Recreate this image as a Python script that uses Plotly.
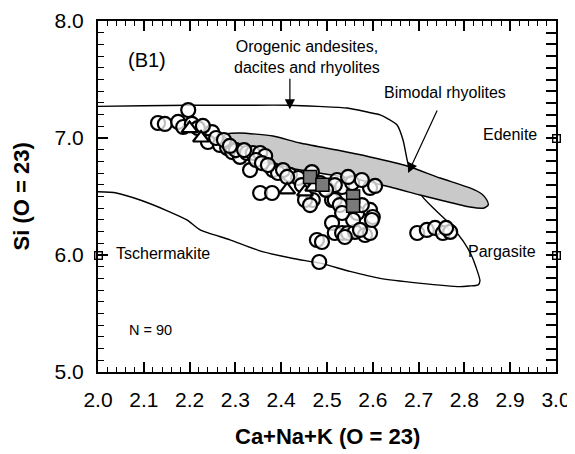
import plotly.graph_objects as go

# ---- data ----
circle_x = [2.131, 2.146, 2.197, 2.175, 2.186, 2.205, 2.249, 2.240, 2.266, 2.282,
            2.293, 2.310, 2.301, 2.325, 2.338, 2.354, 2.365, 2.332, 2.382, 2.393,
            2.419, 2.467, 2.485, 2.511, 2.522, 2.533, 2.469, 2.452, 2.463, 2.354,
            2.380, 2.517, 2.555, 2.594, 2.517, 2.566, 2.594, 2.600, 2.511, 2.478,
            2.489, 2.483, 2.517, 2.533, 2.546, 2.561, 2.583, 2.594, 2.557, 2.598,
            2.697, 2.718, 2.736, 2.753, 2.769, 2.760, 2.572, 2.539, 2.218, 2.229,
            2.258, 2.275, 2.288, 2.319, 2.345, 2.358, 2.371, 2.404, 2.437, 2.445,
            2.498, 2.546, 2.576, 2.605, 2.528, 2.576, 2.533, 2.413]
circle_y = [7.128, 7.120, 7.239, 7.137, 7.094, 7.120, 7.051, 6.966, 6.940, 6.915,
            6.880, 6.838, 6.897, 6.872, 6.872, 6.872, 6.846, 6.726, 6.726, 6.701,
            6.684, 6.709, 6.615, 6.470, 6.641, 6.581, 6.470, 6.470, 6.427, 6.530,
            6.530, 6.598, 6.615, 6.573, 6.470, 6.359, 6.385, 6.325, 6.274, 6.128,
            6.111, 5.940, 6.188, 6.188, 6.188, 6.197, 6.171, 6.188, 6.299, 6.299,
            6.188, 6.214, 6.231, 6.188, 6.197, 6.231, 6.214, 6.154, 7.085, 7.103,
            7.000, 6.983, 6.932, 6.897, 6.812, 6.786, 6.769, 6.726, 6.658, 6.598,
            6.556, 6.667, 6.641, 6.590, 6.427, 6.427, 6.359, 6.667]

tri_x = [2.200, 2.225, 2.413, 2.452, 2.470]
tri_y = [7.080, 7.000, 6.556, 6.540, 6.580]

sq_x = [2.463, 2.490, 2.557, 2.557]
sq_y = [6.667, 6.600, 6.500, 6.420]

orogenic_x = [2.0, 2.1, 2.2, 2.3, 2.42, 2.48, 2.544, 2.59, 2.616, 2.635, 2.653, 2.666,
              2.675, 2.682, 2.695, 2.71, 2.735, 2.762, 2.797, 2.815, 2.825, 2.834,
              2.83, 2.81, 2.79, 2.70, 2.616, 2.55, 2.485, 2.426, 2.35, 2.288, 2.223,
              2.194, 2.15, 2.092, 2.04, 2.0]
orogenic_y = [7.27, 7.275, 7.28, 7.28, 7.28, 7.27, 7.256, 7.22, 7.197, 7.16, 7.111, 6.983,
              6.812, 6.70, 6.58, 6.49, 6.39, 6.29, 6.12, 6.0, 5.90, 5.78,
              5.745, 5.735, 5.73, 5.76, 5.80, 5.86, 5.93, 5.97, 6.04, 6.13, 6.214,
              6.30, 6.38, 6.47, 6.53, 6.54]

bimodal_x = [2.275, 2.282, 2.310, 2.382, 2.441, 2.522, 2.594, 2.675, 2.747, 2.812,
             2.838, 2.849, 2.852, 2.843, 2.812, 2.747, 2.703, 2.638, 2.550, 2.419,
             2.354, 2.310, 2.284, 2.275]
bimodal_y = [7.017, 7.034, 7.043, 7.017, 6.957, 6.897, 6.838, 6.761, 6.658, 6.573,
             6.521, 6.470, 6.427, 6.402, 6.410, 6.470, 6.513, 6.581, 6.658, 6.744,
             6.829, 6.923, 6.983, 7.017]

end_names = ["Edenite", "Pargasite", "Tschermakite"]
end_x = [3.0, 3.0, 2.0]
end_y = [7.0, 6.0, 6.0]

x_ticks = [2.0, 2.1, 2.2, 2.3, 2.4, 2.5, 2.6, 2.7, 2.8, 2.9, 3.0]
x_tick_labels = ["2.0", "2.1", "2.2", "2.3", "2.4", "2.5", "2.6", "2.7", "2.8", "2.9", "3.0"]
y_ticks = [5.0, 6.0, 7.0, 8.0]
y_tick_labels = ["5.0", "6.0", "7.0", "8.0"]

FONT = "Liberation Sans, Arial, sans-serif"


def tf(size, bold=False):
    return dict(family=FONT, size=size, color="black")


fig = go.Figure()

fig.add_trace(go.Scatter(x=orogenic_x, y=orogenic_y, mode="lines",
                         line=dict(color="black", width=1.4, shape="spline", smoothing=0.6),
                         hoverinfo="skip"))

fig.add_trace(go.Scatter(x=bimodal_x, y=bimodal_y, mode="lines", fill="toself",
                         fillcolor="#c9c9c9",
                         line=dict(color="black", width=1.4, shape="spline", smoothing=0.6),
                         hoverinfo="skip"))

fig.add_trace(go.Scatter(x=circle_x, y=circle_y, mode="markers",
                         marker=dict(symbol="circle", size=14, color="rgba(255,255,255,0.75)",
                                     line=dict(color="black", width=2.2))))

fig.add_trace(go.Scatter(x=tri_x, y=tri_y, mode="markers",
                         marker=dict(symbol="triangle-up", size=14, color="white",
                                     line=dict(color="black", width=2.2))))

fig.add_trace(go.Scatter(x=sq_x, y=sq_y, mode="markers",
                         marker=dict(symbol="square", size=13, color="#7a7a7a",
                                     line=dict(color="black", width=1.5))))

# invisible trace to activate the mirrored top/right axes
fig.add_trace(go.Scatter(x=[2.0], y=[5.0], xaxis="x2", yaxis="y2", mode="markers",
                         marker=dict(opacity=0), hoverinfo="skip"))

annotations = [
    dict(x=2.107, y=7.667, text="(B1)", showarrow=False, font=tf(20)),
    dict(x=2.456, y=7.69, text="Orogenic andesites,<br>dacites and rhyolites",
         showarrow=False, font=tf(16)),
    dict(x=2.758, y=7.385, text="Bimodal rhyolites", showarrow=False, font=tf(16)),
    dict(x=2.962, y=7.034, text="Edenite", showarrow=False, xanchor="right", font=tf(16)),
    dict(x=2.960, y=6.03, text="Pargasite", showarrow=False, xanchor="right", font=tf(16)),
    dict(x=2.035, y=6.017, text="Tschermakite", showarrow=False, xanchor="left", font=tf(16)),
    dict(x=2.063, y=5.36, text="N = 90", showarrow=False, xanchor="left", font=tf(14.5)),
    dict(x=2.419, y=7.245, ax=2.419, ay=7.52, xref="x", yref="y", axref="x", ayref="y",
         text="", showarrow=True, arrowhead=2, arrowsize=1.7, arrowwidth=1.2, arrowcolor="black"),
    dict(x=2.677, y=6.70, ax=2.742, ay=7.248, xref="x", yref="y", axref="x", ayref="y",
         text="", showarrow=True, arrowhead=2, arrowsize=1.7, arrowwidth=1.2, arrowcolor="black"),
    dict(x=0.5, y=-0.185, xref="paper", yref="paper", text="<b>Ca+Na+K (O = 23)</b>",
         showarrow=False, font=tf(22), yanchor="middle"),
    dict(x=-0.166, y=0.5, xref="paper", yref="paper", text="<b>Si (O = 23)</b>",
         showarrow=False, font=tf(22), textangle=-90, xanchor="center", yanchor="middle"),
]

# end-member open squares, placed through the axes and not clipped at the frame
for ex, ey in zip(end_x, end_y):
    annotations.append(dict(x=ex, y=ey, xref="x", yref="y", text="&nbsp;", showarrow=False,
                            font=dict(size=4), width=6, height=6, borderpad=0,
                            bordercolor="black", borderwidth=1.4,
                            bgcolor="rgba(255,255,255,0)",
                            xanchor="center", yanchor="middle"))

common = dict(ticks="inside", ticklen=10, tickwidth=2,
              showline=True, linewidth=2, linecolor="black",
              showgrid=False, zeroline=False, automargin=False)

# page body adds an 8px offset, so the figure is 8px smaller than the window
fig.update_layout(
    width=567, height=446,
    margin=dict(l=90, r=19, t=13, b=82),
    paper_bgcolor="white", plot_bgcolor="white", showlegend=False,
    annotations=annotations,
    xaxis=dict(range=[2.0, 3.0], tickvals=x_ticks, ticktext=x_tick_labels, tickcolor="black",
               minor=dict(dtick=0.02, ticks="inside", ticklen=5, tickwidth=1.2, tickcolor="black"),
               tickfont=tf(21), ticklabelstandoff=8, **common),
    yaxis=dict(range=[5.0, 8.0], tickvals=y_ticks, ticktext=y_tick_labels, tickcolor="black",
               minor=dict(dtick=0.1, ticks="inside", ticklen=6, tickwidth=1.2, tickcolor="black"),
               tickfont=tf(21), ticklabelstandoff=8, **common),
    xaxis2=dict(range=[2.0, 3.0], overlaying="x", side="top", anchor="y2", tickcolor="black",
                tickvals=x_ticks, showticklabels=False,
                minor=dict(dtick=0.02, ticks="inside", ticklen=5, tickwidth=1.2, tickcolor="black"),
                **common),
    yaxis2=dict(range=[5.0, 8.0], overlaying="y", side="right", anchor="x2", tickcolor="black",
                dtick=0.1, showticklabels=False, **common),
)

fig.write_html("out.html")
